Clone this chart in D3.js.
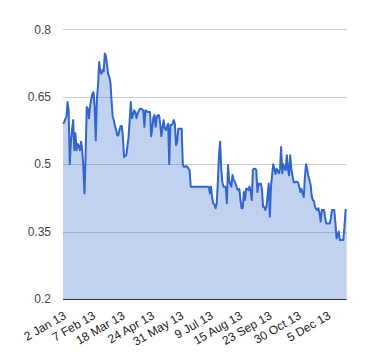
<!DOCTYPE html>
<html>
<head>
<meta charset="utf-8">
<script src="https://cdn.jsdelivr.net/npm/d3@7"></script>
<style>
  html, body { margin: 0; padding: 0; background: #fff; }
  svg { display: block; }
</style>
</head>
<body>
<div id="chart"></div>
<script>
// ---- data ----
const values = [
  0.59, 0.593, 0.60, 0.605, 0.638, 0.62, 0.50, 0.55, 0.575, 0.598,
  0.531, 0.569, 0.531, 0.545, 0.54, 0.531, 0.55, 0.531, 0.494, 0.435,
  0.52, 0.627, 0.623, 0.602, 0.63, 0.645, 0.657, 0.66, 0.627, 0.553,
  0.646, 0.675, 0.727, 0.705, 0.701, 0.71, 0.706, 0.746, 0.74, 0.72,
  0.70, 0.694, 0.68, 0.64, 0.605, 0.597, 0.585, 0.576, 0.564, 0.564,
  0.576, 0.585, 0.585, 0.56, 0.516, 0.518, 0.52, 0.54, 0.56, 0.598,
  0.638, 0.602, 0.61, 0.62, 0.616, 0.602, 0.612, 0.618, 0.623, 0.623,
  0.622, 0.62, 0.583, 0.62, 0.618, 0.616, 0.616, 0.616, 0.562, 0.58,
  0.605, 0.609, 0.583, 0.605, 0.609, 0.609, 0.59, 0.562, 0.58, 0.598,
  0.58, 0.576, 0.583, 0.59, 0.50, 0.587, 0.587, 0.59, 0.598, 0.59,
  0.542, 0.55, 0.579, 0.579, 0.579, 0.579, 0.50, 0.494, 0.494, 0.496,
  0.494, 0.49, 0.487, 0.45, 0.45, 0.45, 0.45, 0.45, 0.45, 0.45,
  0.45, 0.45, 0.45, 0.45, 0.45, 0.45, 0.45, 0.45, 0.45, 0.45,
  0.435, 0.45, 0.424, 0.413, 0.41, 0.402, 0.413, 0.46, 0.52, 0.55,
  0.49, 0.46, 0.45, 0.45, 0.45, 0.413, 0.498, 0.464, 0.455, 0.45,
  0.476, 0.465, 0.461, 0.455, 0.445, 0.442, 0.445, 0.42, 0.402, 0.402,
  0.438, 0.42, 0.445, 0.445, 0.442, 0.45, 0.44, 0.42, 0.487, 0.49,
  0.49, 0.487, 0.438, 0.457, 0.455, 0.457, 0.445, 0.405, 0.405, 0.398,
  0.405, 0.43, 0.457, 0.383, 0.45, 0.475, 0.50, 0.49, 0.478, 0.49,
  0.485, 0.48, 0.49, 0.538, 0.48, 0.50, 0.49, 0.487, 0.52, 0.49,
  0.475, 0.52, 0.49, 0.475, 0.461, 0.459, 0.461, 0.461, 0.459, 0.45,
  0.438, 0.445, 0.435, 0.427, 0.47, 0.50, 0.49, 0.475, 0.465, 0.455,
  0.43, 0.42, 0.418, 0.405, 0.40, 0.398, 0.402, 0.39, 0.372, 0.398,
  0.398, 0.398, 0.379, 0.368, 0.368, 0.368, 0.368, 0.38, 0.398, 0.398,
  0.398, 0.37, 0.335, 0.34, 0.35, 0.331, 0.331, 0.331, 0.331, 0.36,
  0.398, 0.398
];
const xTickIndex = [0, 26, 52, 78, 104, 130, 156, 182, 208, 234];
const xTickLabels = ["2 Jan 13", "7 Feb 13", "18 Mar 13", "24 Apr 13", "31 May 13",
                     "9 Jul 13", "15 Aug 13", "23 Sep 13", "30 Oct 13", "5 Dec 13"];
const yTicks = [0.2, 0.35, 0.5, 0.65, 0.8];
const yTickLabels = ["0.2", "0.35", "0.5", "0.65", "0.8"];

// ---- layout ----
const W = 380, H = 360;
const plotLeft = 63, plotRight = 346.7, plotTop = 29.3, plotBottom = 299;

const svg = d3.select("#chart").append("svg")
  .attr("width", W).attr("height", H);

const x = d3.scaleLinear().domain([0, values.length - 1]).range([plotLeft, plotRight]);
const y = d3.scaleLinear().domain([0.2, 0.8]).range([plotBottom, plotTop]);

// gridlines
svg.append("g").selectAll("line")
  .data(yTicks.filter(d => d !== 0.2))
  .join("line")
  .attr("x1", plotLeft).attr("x2", plotRight)
  .attr("y1", d => Math.round(y(d)) + 0.5).attr("y2", d => Math.round(y(d)) + 0.5)
  .attr("stroke", "#cccccc").attr("stroke-width", 1);

// area
const area = d3.area()
  .x((d, i) => x(i))
  .y0(y(0.2))
  .y1(d => y(d));
svg.append("path")
  .datum(values)
  .attr("d", area)
  .attr("fill", "#3366cc")
  .attr("fill-opacity", 0.3);

// line
const line = d3.line()
  .x((d, i) => x(i))
  .y(d => y(d));
svg.append("path")
  .datum(values)
  .attr("d", line)
  .attr("fill", "none")
  .attr("stroke", "#3366cc")
  .attr("stroke-width", 2)
  .attr("stroke-linejoin", "round");

// baseline
svg.append("line")
  .attr("x1", plotLeft).attr("x2", plotRight)
  .attr("y1", Math.round(y(0.2)) + 0.5).attr("y2", Math.round(y(0.2)) + 0.5)
  .attr("stroke", "#333333").attr("stroke-width", 1);

// y labels
svg.append("g").selectAll("text")
  .data(yTicks)
  .join("text")
  .attr("x", 51)
  .attr("y", d => y(d))
  .attr("dy", "0.35em")
  .attr("text-anchor", "end")
  .attr("font-family", "Arial, 'Liberation Sans', sans-serif")
  .attr("font-size", 12)
  .attr("fill", "#444444")
  .text((d, i) => yTickLabels[i]);

// x labels (rotated)
svg.append("g").selectAll("text")
  .data(xTickIndex)
  .join("text")
  .attr("transform", d => `translate(${x(d) + 4},${plotBottom + 19}) rotate(-30)`)
  .attr("text-anchor", "end")
  .attr("font-family", "Arial, 'Liberation Sans', sans-serif")
  .attr("font-size", 12)
  .attr("fill", "#222222")
  .text((d, i) => xTickLabels[i]);
</script>
</body>
</html>
